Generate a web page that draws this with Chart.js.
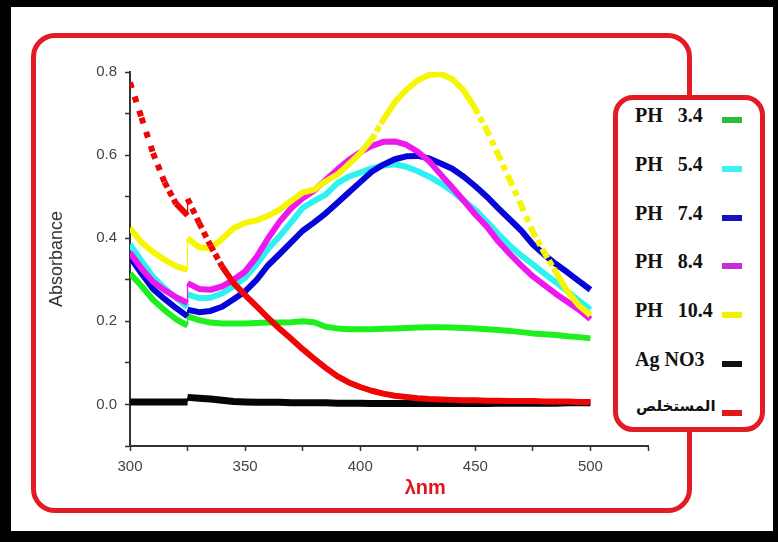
<!DOCTYPE html>
<html>
<head>
<meta charset="utf-8">
<script src="https://cdn.jsdelivr.net/npm/chart.js@4.4.1/dist/chart.umd.min.js"></script>
<style>
    body { margin: 0; width: 778px; height: 542px; overflow: hidden; background: #000; position: relative; }
    #paper { position: absolute; left: 11px; top: 7px; width: 762px; height: 524px; background: #fff; }
    #frameBox { position: absolute; left: 31px; top: 33px; width: 651px; height: 470px; border: 5px solid #e21b25; border-radius: 24px; }
    #absChart { position: absolute; left: 0; top: 0; }
    #legend { position: absolute; left: 613px; top: 95px; width: 142px; height: 327px; border: 5px solid #e21b25; border-radius: 20px; background: #fff; }
    .row { position: absolute; left: 0; width: 100%; height: 28px; }
    .row span { position: absolute; left: 17px; top: 0; line-height: 28px; font: bold 20px "Liberation Serif", "DejaVu Serif", serif; color: #111; white-space: pre; }
    .row span.ar { font: bold 15px "DejaVu Sans", sans-serif; left: 18px; }
    .row i { position: absolute; left: 104px; top: 13px; width: 20px; height: 6px; }
</style>
</head>
<body>
<div id="paper"></div>
<div id="frameBox"></div>
<canvas id="absChart" width="778" height="542"></canvas>
<div id="legend"></div>
<script>
'use strict';

// Bølgelængder (nm) - 325 optræder to gange pga. springet i spektret
const wavelengths = [300, 305, 310, 315, 320, 325, 325, 330, 335, 340, 345, 350, 355, 360, 365, 370, 375, 380, 385, 390, 395,
    400, 405, 410, 415, 420, 425, 430, 435, 440, 445, 450, 455, 460, 465, 470, 475, 480, 485, 490, 495, 500];

const ph34 = [0.315, 0.285, 0.252, 0.227, 0.205, 0.190, 0.212, 0.203, 0.197, 0.195, 0.195, 0.195, 0.196, 0.197, 0.197, 0.198, 0.200, 0.198, 0.187, 0.183, 0.181,
    0.181, 0.181, 0.182, 0.183, 0.184, 0.185, 0.186, 0.186, 0.185, 0.184, 0.183, 0.181, 0.179, 0.177, 0.174, 0.171, 0.169, 0.167, 0.164, 0.162, 0.159];
const ph54 = [0.385, 0.345, 0.307, 0.280, 0.256, 0.234, 0.265, 0.256, 0.257, 0.267, 0.284, 0.305, 0.337, 0.375, 0.405, 0.438, 0.473, 0.490, 0.505, 0.532, 0.548,
    0.558, 0.568, 0.575, 0.578, 0.572, 0.561, 0.548, 0.532, 0.513, 0.490, 0.468, 0.440, 0.410, 0.382, 0.358, 0.337, 0.315, 0.294, 0.272, 0.250, 0.228];
const ph74 = [0.355, 0.315, 0.278, 0.254, 0.232, 0.212, 0.228, 0.222, 0.225, 0.235, 0.253, 0.272, 0.300, 0.335, 0.362, 0.390, 0.418, 0.438, 0.460, 0.485, 0.510,
    0.535, 0.560, 0.577, 0.590, 0.597, 0.598, 0.592, 0.580, 0.567, 0.548, 0.525, 0.500, 0.472, 0.445, 0.418, 0.385, 0.360, 0.338, 0.318, 0.297, 0.276];
const ph84 = [0.365, 0.327, 0.295, 0.275, 0.258, 0.244, 0.292, 0.278, 0.276, 0.284, 0.300, 0.320, 0.355, 0.400, 0.440, 0.472, 0.496, 0.515, 0.540, 0.565, 0.588,
    0.607, 0.622, 0.632, 0.633, 0.625, 0.608, 0.585, 0.553, 0.522, 0.490, 0.457, 0.428, 0.392, 0.362, 0.334, 0.308, 0.287, 0.266, 0.247, 0.228, 0.205];
const ph104 = [0.425, 0.390, 0.367, 0.348, 0.333, 0.324, 0.400, 0.378, 0.376, 0.398, 0.424, 0.437, 0.443, 0.454, 0.469, 0.490, 0.510, 0.517, 0.537, 0.553, 0.578,
    0.605, 0.638, 0.685, 0.727, 0.757, 0.780, 0.793, 0.795, 0.783, 0.755, 0.712, 0.660, 0.600, 0.540, 0.478, 0.415, 0.365, 0.318, 0.272, 0.238, 0.215];
const agNo3 = [0.006, 0.006, 0.006, 0.006, 0.006, 0.006, 0.017, 0.015, 0.013, 0.010, 0.007, 0.006, 0.005, 0.005, 0.005, 0.004, 0.004, 0.004, 0.004, 0.003, 0.003,
    0.003, 0.002, 0.002, 0.002, 0.002, 0.002, 0.002, 0.002, 0.002, 0.002, 0.002, 0.002, 0.003, 0.003, 0.003, 0.003, 0.003, 0.003, 0.004, 0.004, 0.004];
const extract = [0.775, 0.690, 0.605, 0.535, 0.483, 0.455, 0.495, 0.437, 0.382, 0.332, 0.292, 0.263, 0.236, 0.208, 0.182, 0.158, 0.133, 0.110, 0.088, 0.068, 0.053,
    0.042, 0.033, 0.026, 0.021, 0.018, 0.015, 0.013, 0.012, 0.011, 0.010, 0.010, 0.009, 0.009, 0.008, 0.008, 0.008, 0.007, 0.007, 0.007, 0.006, 0.006];

const seriesNames = ['PH   3.4', 'PH   5.4', 'PH   7.4', 'PH   8.4', 'PH   10.4', 'Ag NO3', 'المستخلص'];
const seriesValues = [ph34, ph54, ph74, ph84, ph104, agNo3, extract];
const lineColors = ['#1fee1f', '#2ef2f2', '#0505d8', '#ee18ee', '#f6f600', '#050505', '#ee0505'];
const legendColors = ['#2dbb3c', '#3ef0f2', '#1515bf', '#c62fd6', '#f4f000', '#111111', '#e01818'];

const xTicks = [300, 350, 400, 450, 500];
const yTicks = [0.0, 0.2, 0.4, 0.6, 0.8];

// Stiplet linje hvor kurven er stejl, så punkterne ser ud som firkanter
function squareDash(ctx) {
    const dx = Math.abs(ctx.p1.x - ctx.p0.x);
    const dy = Math.abs(ctx.p1.y - ctx.p0.y);
    if (dx < 0.5) {
        return undefined;
    }
    const step = 4.6 * Math.hypot(dx, dy) / dx;
    const gap = step - 6;
    return gap > 3 ? [6, gap] : undefined;
}

// Tynd lodret streg ved springet
function jumpWidth(ctx) {
    return Math.abs(ctx.p1.x - ctx.p0.x) < 0.5 ? 1.2 : undefined;
}

const datasets = seriesValues.map(function(values, i) {
    return {
        label: seriesNames[i],
        data: values.map(function(v, k) { return { x: wavelengths[k], y: v }; }),
        borderColor: lineColors[i],
        borderWidth: i === 5 ? 7 : 6,
        borderCapStyle: 'butt',
        borderJoinStyle: 'round',
        pointRadius: 0,
        tension: 0,
        order: seriesValues.length - i, // sidste serie tegnes øverst
        segment: {
            borderDash: squareDash,
            borderWidth: jumpWidth
        }
    };
});

// Aksetitel for x-aksen
const lambdaTitle = {
    id: 'lambdaTitle',
    afterDraw: function(chart) {
        const area = chart.chartArea;
        const c = chart.ctx;
        c.save();
        c.font = 'bold 20px "Liberation Sans", Arial, sans-serif';
        c.fillStyle = '#e0161f';
        c.textAlign = 'center';
        c.textBaseline = 'middle';
        c.fillText('λnm', area.left + (area.right - area.left) * 0.57, area.bottom + 42);
        c.restore();
    }
};

new Chart(document.getElementById('absChart'), {
    type: 'line',
    data: { datasets: datasets },
    plugins: [lambdaTitle],
    options: {
        responsive: false,
        animation: false,
        devicePixelRatio: 1,
        layout: { padding: { left: 36, top: 72, right: 130, bottom: 0 } },
        plugins: {
            legend: { display: false },
            tooltip: { enabled: false }
        },
        scales: {
            x: {
                type: 'linear',
                min: 300,
                max: 525,
                afterFit: function(scale) { scale.height = 96; },
                ticks: {
                    stepSize: 25,
                    padding: 7,
                    maxRotation: 0,
                    color: '#444',
                    font: { family: '"Liberation Sans", Arial, sans-serif', size: 15 },
                    callback: function(value) {
                        return xTicks.indexOf(value) >= 0 ? String(value) : '';
                    }
                },
                grid: { drawOnChartArea: false, tickLength: 5, tickColor: '#333', tickWidth: 1.5 },
                border: { color: '#333', width: 2 }
            },
            y: {
                min: -0.1,
                max: 0.8,
                afterFit: function(scale) { scale.width = 94; },
                ticks: {
                    stepSize: 0.1,
                    padding: 8,
                    color: '#444',
                    font: { family: '"Liberation Sans", Arial, sans-serif', size: 15 },
                    callback: function(value) {
                        const hit = yTicks.some(function(t) { return Math.abs(t - value) < 1e-6; });
                        return hit ? value.toFixed(1) : '';
                    }
                },
                title: {
                    display: true,
                    text: 'Absorbance',
                    color: '#333',
                    padding: { top: 10, bottom: 0 },
                    font: { family: '"Liberation Sans", Arial, sans-serif', size: 18 }
                },
                grid: { drawOnChartArea: false, tickLength: 5, tickColor: '#333', tickWidth: 1.5 },
                border: { color: '#333', width: 2 }
            }
        }
    }
});

// Forklaring (legend) som HTML
const legendBox = document.getElementById('legend');
seriesNames.forEach(function(name, i) {
    const row = document.createElement('div');
    row.className = 'row';
    row.style.top = (4 + i * 48.8) + 'px';
    const label = document.createElement('span');
    label.textContent = name;
    if (/[\u0600-\u06FF]/.test(name)) {
        label.className = 'ar';
    }
    const swatch = document.createElement('i');
    swatch.style.background = legendColors[i];
    row.appendChild(label);
    row.appendChild(swatch);
    legendBox.appendChild(row);
});
</script>
</body>
</html>
